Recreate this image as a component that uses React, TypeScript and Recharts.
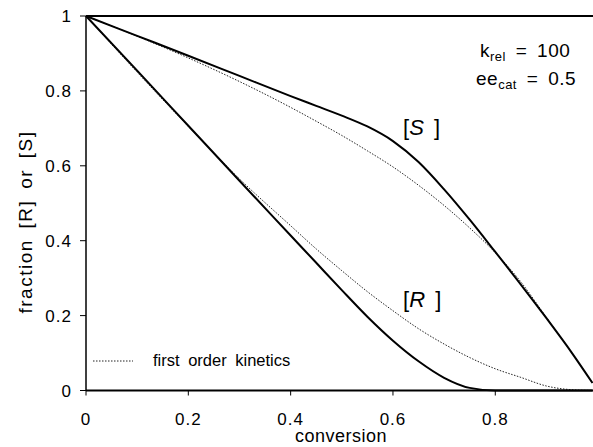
import { LineChart, Line, XAxis, YAxis, ReferenceLine } from "recharts";

// conversion grid and fractions of each enantiomer
const conversion = [0, 0.1, 0.2, 0.3, 0.4, 0.45, 0.5, 0.55, 0.6, 0.65, 0.7, 0.75, 0.8, 0.85, 0.9, 0.95, 0.99];
const sSat = [1, 0.947, 0.894, 0.84, 0.786, 0.76, 0.734, 0.705, 0.666, 0.61, 0.537, 0.456, 0.37, 0.283, 0.193, 0.1, 0.02];
const rSat = [1, 0.854, 0.707, 0.56, 0.414, 0.341, 0.268, 0.197, 0.133, 0.078, 0.034, 0.007, 0, 0, 0, 0, 0];
const sFirst = [1, 0.946, 0.888, 0.825, 0.756, 0.719, 0.681, 0.64, 0.597, 0.548, 0.494, 0.434, 0.368, 0.29, 0.195, 0.1, 0.02];
const rFirst = [1, 0.85, 0.705, 0.565, 0.44, 0.378, 0.32, 0.264, 0.213, 0.165, 0.124, 0.088, 0.058, 0.035, 0.012, 0.002, 0];

const xTicks = [0, 0.2, 0.4, 0.6, 0.8];
const yTicks = [0, 0.2, 0.4, 0.6, 0.8, 1];

const rows = conversion.map((c, i) => ({
  c,
  sSat: sSat[i],
  rSat: rSat[i],
  sFirst: sFirst[i],
  rFirst: rFirst[i],
}));

const FONT = "'Liberation Sans', Arial, sans-serif";
const dotted = "1.5 1.5";

export default function App() {
  return (
    <div style={{ position: "absolute", left: 0, top: 0, background: "#fff" }}>
      <LineChart width={593} height={447} data={rows} margin={{ top: 16, right: 0, bottom: 0, left: 0 }}>
        <XAxis
          dataKey="c"
          type="number"
          domain={[0, 0.991]}
          ticks={xTicks}
          height={56.5}
          axisLine={{ stroke: "#000", strokeWidth: 2 }}
          tickLine={{ stroke: "#000" }}
          tickSize={5}
          tickMargin={17}
          tick={{ fill: "#000", fontSize: 17, fontFamily: FONT, letterSpacing: 1 }}
        />
        <YAxis
          type="number"
          domain={[0, 1]}
          ticks={yTicks}
          width={86}
          axisLine={{ stroke: "#000", strokeWidth: 1.5 }}
          tickLine={{ stroke: "#000" }}
          tickSize={6}
          tickMargin={8}
          tick={{ fill: "#000", fontSize: 17, fontFamily: FONT, letterSpacing: 1 }}
        />
        <ReferenceLine y={1} stroke="#000" strokeWidth={2} />
        <Line dataKey="sFirst" type="monotone" stroke="#222" strokeWidth={1} strokeDasharray={dotted} dot={false} isAnimationActive={false} />
        <Line dataKey="rFirst" type="monotone" stroke="#222" strokeWidth={1} strokeDasharray={dotted} dot={false} isAnimationActive={false} />
        <Line dataKey="sSat" type="monotone" stroke="#000" strokeWidth={2} dot={false} isAnimationActive={false} />
        <Line dataKey="rSat" type="monotone" stroke="#000" strokeWidth={2} dot={false} isAnimationActive={false} />

        <text x={341} y={442} textAnchor="middle" fontSize={18} letterSpacing={0.5} fontFamily={FONT} fill="#000">conversion</text>
        <text
          transform="translate(32,222) rotate(-90)"
          textAnchor="middle"
          fontSize={19}
          letterSpacing={1.5}
          wordSpacing={4}
          fontFamily={FONT}
          fill="#000"
        >
          fraction [R] or [S]
        </text>

        <text x={480} y={57} fontSize={19} letterSpacing={0.5} wordSpacing={4} fontFamily={FONT} fill="#000">
          k<tspan fontSize={13} dy={4}>rel</tspan>
          <tspan dy={-4}> = 100</tspan>
        </text>
        <text x={476} y={85} fontSize={19} letterSpacing={0.5} wordSpacing={4} fontFamily={FONT} fill="#000">
          ee<tspan fontSize={13} dy={4}>cat</tspan>
          <tspan dy={-4}> = 0.5</tspan>
        </text>

        <text x={403} y={135} fontSize={22} wordSpacing={4} fontFamily={FONT} fill="#000">
          [<tspan fontStyle="italic">S</tspan> ]
        </text>
        <text x={403} y={307} fontSize={22} wordSpacing={4} fontFamily={FONT} fill="#000">
          [<tspan fontStyle="italic">R</tspan> ]
        </text>

        <line x1={93} x2={133} y1={361} y2={361} stroke="#222" strokeWidth={1} strokeDasharray={dotted} />
        <text x={153} y={366} fontSize={16.5} wordSpacing={4} fontFamily={FONT} fill="#000">first order kinetics</text>
      </LineChart>
    </div>
  );
}
